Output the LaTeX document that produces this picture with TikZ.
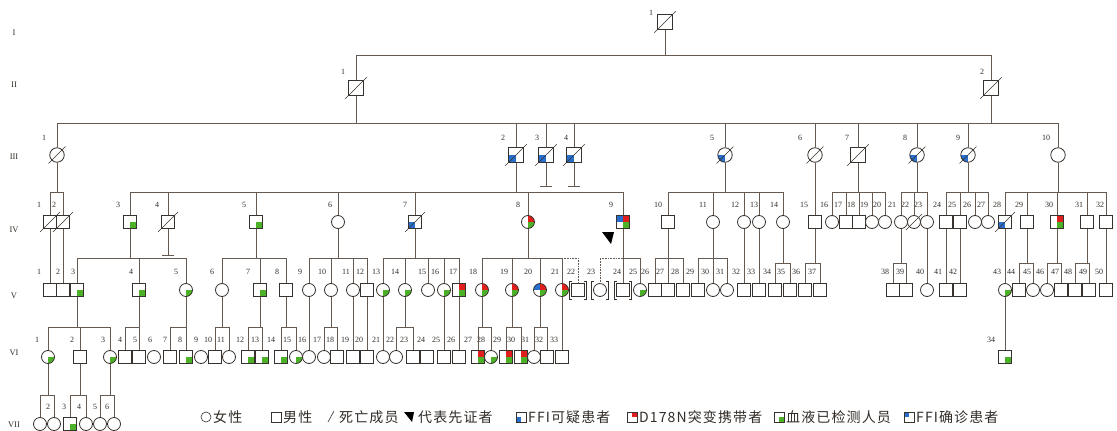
\documentclass[tikz,border=0pt]{standalone}
\usepackage{fontspec}
\setmainfont{Liberation Serif}
\newfontfamily\cjk[LetterSpace=8]{Noto Sans CJK SC}
\definecolor{gr}{RGB}{76,176,40}
\definecolor{rd}{RGB}{225,30,30}
\definecolor{bl}{RGB}{40,110,205}
\definecolor{lc}{RGB}{100,90,82}
\definecolor{sc}{RGB}{55,50,45}
\definecolor{tc}{RGB}{50,45,40}
\newcommand\qd[4]{%
  \fill[#1] (path picture bounding box.center) rectangle (path picture bounding box.north west);
  \fill[#2] (path picture bounding box.center) rectangle (path picture bounding box.north east);
  \fill[#3] (path picture bounding box.center) rectangle (path picture bounding box.south west);
  \fill[#4] (path picture bounding box.center) rectangle (path picture bounding box.south east);}
\tikzset{
  ln/.style={draw=lc, line width=0.6pt},
  sym/.style={draw=sc, line width=0.8pt, inner sep=0pt, minimum size=13pt, fill=white},
  male/.style={sym, rectangle},
  fem/.style={sym, circle},
  big/.style={minimum size=14.5pt},
  quad/.style n args={4}{path picture={\qd{#1}{#2}{#3}{#4}}},
  LLb/.style={quad={white}{white}{bl}{white}},
  LRg/.style={quad={white}{white}{white}{gr}},
  RG/.style={quad={white}{rd}{white}{gr}},
  BRG/.style={quad={bl}{rd}{white}{gr}},
  lbl/.style={font=\fontsize{8}{9}\selectfont, inner sep=0pt, text=tc},
  gen/.style={font=\fontsize{8.5}{9}\selectfont, inner sep=0pt, text=tc},
  leg/.style={font=\fontsize{14}{15}\selectfont\cjk, inner sep=0pt, anchor=west, text=tc},
  legsym/.style={minimum size=10pt, line width=0.6pt},
}
\newcommand\Ma[4][]{\node[male,#1] (#2) at (#3,#4) {};}
\newcommand\Fe[4][]{\node[fem,#1] (#2) at (#3,#4) {};}
\newcommand\lab[4]{\node[lbl] (l#1) at (#2,#3) {#4};}
\newcommand\dead[1]{\draw[sc, line width=0.6pt] ([shift={(-3pt,-3pt)}]#1.south west) -- ([shift={(3pt,3pt)}]#1.north east);}
\newcommand\kin[5]{\draw[ln] (#1.south) -- (#1.south |- #2); \draw[ln] (#3.north |- #2) -- (#4.north |- #2); \foreach \k in {#5}{\draw[ln] (\k.north) -- (\k.north |- #2);}}
\newcommand\pch[2]{\draw[ln] (#1.south) -- (#2.north);}
\newcommand\tbar[2]{\draw[ln] (#1.south) -- (#1.south |- #2) coordinate (t#1); \draw[ln] ([xshift=-6pt]t#1) -- ([xshift=6pt]t#1);}
\newcommand\brk[1]{%
 \draw[sc,line width=0.6pt] ([shift={(-6pt,9pt)}]#1.center) -- ([shift={(-8.5pt,9pt)}]#1.center) -- ([shift={(-8.5pt,-9pt)}]#1.center) -- ([shift={(-6pt,-9pt)}]#1.center);
 \draw[sc,line width=0.6pt] ([shift={(6pt,9pt)}]#1.center) -- ([shift={(8.5pt,9pt)}]#1.center) -- ([shift={(8.5pt,-9pt)}]#1.center) -- ([shift={(6pt,-9pt)}]#1.center);}
\begin{document}
\begin{tikzpicture}[x=1pt,y=-1pt]
\useasboundingbox[fill=white] (0,0) rectangle (1117,431);
\coordinate (r1) at (0,55);
\coordinate (r2) at (0,123);
\coordinate (r3) at (0,192);
\coordinate (r3t) at (0,186);
\coordinate (r4) at (0,258);
\coordinate (r4b) at (0,263);
\coordinate (r4t) at (0,255);
\coordinate (r5) at (0,327);
\coordinate (r6) at (0,395);
% generation labels
\node[gen] (gI) at (14,33) {I};
\node[gen] (gII) at (14,85) {II};
\node[gen] (gIII) at (14,157) {III};
\node[gen] (gIV) at (14,230) {IV};
\node[gen] (gV) at (14,296) {V};
\node[gen] (gVI) at (14,353) {VI};
\node[gen] (gVII) at (14,425) {VII};
% I
\Ma[big]{I1}{665}{22} \dead{I1} \lab{I1}{651}{13}{1}
% II
\Ma[big]{II1}{356}{88} \dead{II1} \lab{II1}{343}{72}{1}
\Ma[big]{II2}{991}{88} \dead{II2} \lab{II2}{982}{72}{2}
% III
\Fe[big]{III1}{57}{155} \dead{III1} \lab{III1}{44}{138}{1}
\Ma[big,LLb]{III2}{516}{155} \dead{III2} \lab{III2}{503}{138}{2}
\Ma[big,LLb]{III3}{546}{155} \dead{III3} \lab{III3}{537}{138}{3}
\Ma[big,LLb]{III4}{574}{155} \dead{III4} \lab{III4}{566}{138}{4}
\Fe[big,LLb]{III5}{725}{155} \dead{III5} \lab{III5}{712}{138}{5}
\Fe[big]{III6}{815}{155} \dead{III6} \lab{III6}{800}{138}{6}
\Ma[big]{III7}{858}{155} \dead{III7} \lab{III7}{847}{138}{7}
\Fe[big,LLb]{III8}{917}{155} \dead{III8} \lab{III8}{905}{138}{8}
\Fe[big,LLb]{III9}{968}{155} \dead{III9} \lab{III9}{958}{138}{9}
\Fe[big]{III10}{1058}{155} \lab{III10}{1046}{138}{10}
% IV
\Ma{IV1}{50}{222} \dead{IV1} \lab{IV1}{39}{205}{1}
\Ma{IV2}{63}{222} \dead{IV2} \lab{IV2}{54}{205}{2}
\Ma[LRg]{IV3}{130}{222} \lab{IV3}{118}{205}{3}
\Ma{IV4}{168}{222} \dead{IV4} \lab{IV4}{157}{205}{4}
\Ma[LRg]{IV5}{256}{222} \lab{IV5}{244}{205}{5}
\Fe{IV6}{338}{222} \lab{IV6}{330}{205}{6}
\Ma[LLb]{IV7}{415}{222} \dead{IV7} \lab{IV7}{405}{205}{7}
\Fe[RG]{IV8}{528}{222} \lab{IV8}{518}{205}{8}
\Ma[BRG]{IV9}{623}{222} \lab{IV9}{611}{205}{9}
\Ma{IV10}{668}{222} \lab{IV10}{658}{205}{10}
\Fe{IV11}{713}{222} \lab{IV11}{703}{205}{11}
\Fe{IV12}{744}{222} \lab{IV12}{735}{205}{12}
\Fe{IV13}{759}{222} \lab{IV13}{754}{205}{13}
\Fe{IV14}{783}{222} \lab{IV14}{774}{205}{14}
\Ma{IV15}{815}{222} \lab{IV15}{804}{205}{15}
\Fe{IV16}{832}{222} \lab{IV16}{824}{205}{16}
\Ma{IV17}{846}{222} \lab{IV17}{838}{205}{17}
\Ma{IV18}{859}{222} \lab{IV18}{851}{205}{18}
\Fe{IV19}{872}{222} \lab{IV19}{864}{205}{19}
\Fe{IV20}{885}{222} \lab{IV20}{877}{205}{20}
\Fe{IV21}{901}{222} \lab{IV21}{892}{205}{21}
\Fe{IV22}{914}{222} \dead{IV22} \lab{IV22}{905}{205}{22}
\Fe{IV23}{927}{222} \lab{IV23}{918}{205}{23}
\Ma{IV24}{946}{222} \lab{IV24}{937}{205}{24}
\Ma{IV25}{960}{222} \lab{IV25}{952}{205}{25}
\Fe{IV26}{975}{222} \lab{IV26}{967}{205}{26}
\Fe{IV27}{988}{222} \lab{IV27}{981}{205}{27}
\Ma[LLb]{IV28}{1005}{222} \dead{IV28} \lab{IV28}{997}{205}{28}
\Ma{IV29}{1027}{222} \lab{IV29}{1019}{205}{29}
\Ma[RG]{IV30}{1057}{222} \lab{IV30}{1049}{205}{30}
\Ma{IV31}{1087}{222} \lab{IV31}{1079}{205}{31}
\Ma{IV32}{1106}{222} \lab{IV32}{1100}{205}{32}
% V
\Ma{V1}{50}{290} \lab{V1}{39}{272}{1}
\Ma{V2}{63}{290} \lab{V2}{58}{272}{2}
\Ma[LRg]{V3}{77}{290} \lab{V3}{73}{272}{3}
\Ma[LRg]{V4}{139}{290} \lab{V4}{131}{272}{4}
\Fe[LRg]{V5}{186}{290} \lab{V5}{176}{272}{5}
\Fe{V6}{222}{290} \lab{V6}{212}{272}{6}
\Ma[LRg]{V7}{260}{290} \lab{V7}{248}{272}{7}
\Ma{V8}{286}{290} \lab{V8}{277}{272}{8}
\Fe{V9}{309}{290} \lab{V9}{300}{272}{9}
\Fe{V10}{331}{290} \lab{V10}{322}{272}{10}
\Fe{V11}{353}{290} \lab{V11}{346}{272}{11}
\Ma{V12}{367}{290} \lab{V12}{360}{272}{12}
\Fe[LRg]{V13}{383}{290} \lab{V13}{376}{272}{13}
\Fe[LRg]{V14}{405}{290} \lab{V14}{395}{272}{14}
\Fe{V15}{428}{290} \lab{V15}{422}{272}{15}
\Fe[LRg]{V16}{444}{290} \lab{V16}{435}{272}{16}
\Ma[RG]{V17}{459}{290} \lab{V17}{453}{272}{17}
\Fe[RG]{V18}{482}{290} \lab{V18}{473}{272}{18}
\Fe[RG]{V19}{512}{290} \lab{V19}{504}{272}{19}
\Fe[BRG]{V20}{540}{290} \lab{V20}{528}{272}{20}
\Fe[RG]{V21}{562}{290} \lab{V21}{555}{272}{21}
\Ma{V22}{578}{290} \lab{V22}{571}{272}{22}
\Fe{V23}{600}{290} \lab{V23}{591}{272}{23}
\Ma{V24}{623}{290} \lab{V24}{617}{272}{24}
\Fe[LRg]{V25}{640}{290} \lab{V25}{633}{272}{25}
\Ma{V26}{655}{290} \lab{V26}{645}{272}{26}
\Ma{V27}{668}{290} \lab{V27}{660}{272}{27}
\Ma{V28}{683}{290} \lab{V28}{675}{272}{28}
\Ma{V29}{698}{290} \lab{V29}{690}{272}{29}
\Fe{V30}{713}{290} \lab{V30}{705}{272}{30}
\Fe{V31}{727}{290} \lab{V31}{720}{272}{31}
\Ma{V32}{744}{290} \lab{V32}{736}{272}{32}
\Ma{V33}{759}{290} \lab{V33}{751}{272}{33}
\Ma{V34}{775}{290} \lab{V34}{767}{272}{34}
\Ma{V35}{790}{290} \lab{V35}{781}{272}{35}
\Ma{V36}{805}{290} \lab{V36}{796}{272}{36}
\Ma{V37}{820}{290} \lab{V37}{812}{272}{37}
\Ma{V38}{893}{290} \lab{V38}{885}{272}{38}
\Ma{V39}{906}{290} \lab{V39}{900}{272}{39}
\Fe{V40}{927}{290} \lab{V40}{920}{272}{40}
\Ma{V41}{946}{290} \lab{V41}{938}{272}{41}
\Ma{V42}{960}{290} \lab{V42}{953}{272}{42}
\Fe[LRg]{V43}{1005}{290} \lab{V43}{997}{272}{43}
\Ma{V44}{1019}{290} \lab{V44}{1011}{272}{44}
\Fe{V45}{1033}{290} \lab{V45}{1027}{272}{45}
\Fe{V46}{1047}{290} \lab{V46}{1040}{272}{46}
\Ma{V47}{1061}{290} \lab{V47}{1055}{272}{47}
\Ma{V48}{1075}{290} \lab{V48}{1068}{272}{48}
\Ma{V49}{1089}{290} \lab{V49}{1083}{272}{49}
\Ma{V50}{1106}{290} \lab{V50}{1099}{272}{50}
\brk{V22} \brk{V23} \brk{V24}
% VI
\Fe[LRg]{VI1}{48}{357} \lab{VI1}{37}{340}{1}
\Ma{VI2}{80}{357} \lab{VI2}{72}{340}{2}
\Fe[LRg]{VI3}{110}{357} \lab{VI3}{103}{340}{3}
\Ma{VI4}{125}{357} \lab{VI4}{120}{340}{4}
\Ma{VI5}{139}{357} \lab{VI5}{135}{340}{5}
\Fe{VI6}{154}{357} \lab{VI6}{150}{340}{6}
\Ma{VI7}{170}{357} \lab{VI7}{165}{340}{7}
\Ma[LRg]{VI8}{186}{357} \lab{VI8}{180}{340}{8}
\Fe{VI9}{201}{357} \lab{VI9}{196}{340}{9}
\Ma{VI10}{215}{357} \lab{VI10}{208}{340}{10}
\Fe{VI11}{229}{357} \lab{VI11}{221}{340}{11}
\Ma[LRg]{VI12}{248}{357} \lab{VI12}{240}{340}{12}
\Ma[LRg]{VI13}{262}{357} \lab{VI13}{255}{340}{13}
\Ma[LRg]{VI14}{281}{357} \lab{VI14}{271}{340}{14}
\Fe[LRg]{VI15}{296}{357} \lab{VI15}{287}{340}{15}
\Fe{VI16}{309}{357} \lab{VI16}{302}{340}{16}
\Fe{VI17}{324}{357} \lab{VI17}{317}{340}{17}
\Ma{VI18}{337}{357} \lab{VI18}{330}{340}{18}
\Ma{VI19}{353}{357} \lab{VI19}{345}{340}{19}
\Ma{VI20}{367}{357} \lab{VI20}{359}{340}{20}
\Fe{VI21}{383}{357} \lab{VI21}{376}{340}{21}
\Fe{VI22}{396}{357} \lab{VI22}{390}{340}{22}
\Ma{VI23}{413}{357} \lab{VI23}{404}{340}{23}
\Ma{VI24}{427}{357} \lab{VI24}{421}{340}{24}
\Ma{VI25}{444}{357} \lab{VI25}{436}{340}{25}
\Ma{VI26}{459}{357} \lab{VI26}{451}{340}{26}
\Ma[RG]{VI27}{478}{357} \lab{VI27}{468}{340}{27}
\Fe[LRg]{VI28}{491}{357} \lab{VI28}{481}{340}{28}
\Ma[RG]{VI29}{506}{357} \lab{VI29}{497}{340}{29}
\Ma[RG]{VI30}{521}{357} \lab{VI30}{511}{340}{30}
\Fe{VI31}{534}{357} \lab{VI31}{525}{340}{31}
\Ma{VI32}{547}{357} \lab{VI32}{539}{340}{32}
\Ma{VI33}{562}{357} \lab{VI33}{554}{340}{33}
\Ma[LRg]{VI34}{1005}{357} \lab{VI34}{991}{340}{34}
% VII
\Fe{VII1}{40}{424}
\Fe{VII2}{54}{424} \lab{VII2}{48}{407}{2}
\Ma[LRg]{VII3}{70}{424} \lab{VII3}{64}{407}{3}
\Fe{VII4}{86}{424} \lab{VII4}{79}{407}{4}
\Fe{VII5}{100}{424} \lab{VII5}{95}{407}{5}
\Fe{VII6}{114}{424} \lab{VII6}{107}{407}{6}
% connectors I-II-III
\kin{I1}{r1}{II1}{II2}{II1,II2}
\draw[ln] (II1.south) -- (II1.south |- r2);
\draw[ln] (II2.south) -- (II2.south |- r2);
\draw[ln] (III1.north |- r2) -- (III10.north |- r2);
\foreach \k in {III1,III2,III3,III4,III5,III6,III7,III8,III9,III10}{\draw[ln] (\k.north) -- (\k.north |- r2);}
\tbar{III3}{r3t} \tbar{III4}{r3t}
% III-IV
\kin{III1}{r3}{IV1}{IV2}{IV1,IV2}
\kin{III2}{r3}{IV3}{IV9}{IV3,IV4,IV5,IV6,IV7,IV8,IV9}
\kin{III5}{r3}{IV10}{IV14}{IV10,IV11,IV12,IV13,IV14}
\pch{III6}{IV15}
\kin{III7}{r3}{IV16}{IV20}{IV16,IV17,IV18,IV19,IV20}
\kin{III8}{r3}{IV21}{IV23}{IV21,IV22,IV23}
\kin{III9}{r3}{IV24}{IV27}{IV24,IV25,IV26,IV27}
\kin{III10}{r3}{IV28}{IV32}{IV28,IV29,IV30,IV31,IV32}
\tbar{IV4}{r4t}
% IV-V
\pch{IV1}{V1} \pch{IV2}{V2}
\kin{IV3}{r4}{V3}{V5}{V3,V4,V5}
\kin{IV5}{r4}{V6}{V8}{V6,V7,V8}
\kin{IV6}{r4}{V9}{V12}{V9,V10,V11,V12}
\kin{IV7}{r4}{V13}{V17}{V13,V14,V15,V16,V17}
\kin{IV8}{r4}{V18}{V21}{V18,V19,V20,V21}
\draw[ln,densely dotted] (V21.north |- r4) -- (V22.north |- r4) -- (V22.north);
\kin{IV9}{r4}{V24}{V25}{V24,V25}
\draw[ln,densely dotted] (V24.north |- r4) -- (V23.north |- r4) -- (V23.north);
\kin{IV10}{r4}{V26}{V28}{V26,V27,V28}
\kin{IV11}{r4}{V29}{V31}{V29,V30,V31}
\pch{IV12}{V32} \pch{IV13}{V33}
\kin{IV14}{r4b}{V34}{V35}{V34,V35}
\kin{IV15}{r4b}{V36}{V37}{V36,V37}
\kin{IV21}{r4b}{V38}{V39}{V38,V39}
\pch{IV23}{V40} \pch{IV24}{V41} \pch{IV25}{V42} \pch{IV28}{V43}
\kin{IV29}{r4b}{V44}{V45}{V44,V45}
\kin{IV30}{r4b}{V46}{V47}{V46,V47}
\kin{IV31}{r4b}{V48}{V49}{V48,V49}
\pch{IV32}{V50}
% V-VI
\kin{V3}{r5}{VI1}{VI3}{VI1,VI2,VI3}
\kin{V4}{r5}{VI4}{VI5}{VI4,VI5}
\kin{V5}{r5}{VI7}{VI8}{VI7,VI8}
\kin{V6}{r5}{VI10}{VI11}{VI10,VI11}
\kin{V7}{r5}{VI12}{VI13}{VI12,VI13}
\kin{V8}{r5}{VI14}{VI15}{VI14,VI15}
\pch{V9}{VI16}
\kin{V10}{r5}{VI17}{VI18}{VI17,VI18}
\pch{V11}{VI19} \pch{V12}{VI20} \pch{V13}{VI21}
\kin{V14}{r5}{VI22}{VI23}{VI22,VI23}
\pch{V16}{VI25} \pch{V17}{VI26}
\kin{V18}{r5}{VI27}{VI28}{VI27,VI28}
\kin{V19}{r5}{VI29}{VI30}{VI29,VI30}
\kin{V20}{r5}{VI31}{VI32}{VI31,VI32}
\pch{V21}{VI33}
\pch{V43}{VI34}
% VI-VII
\kin{VI1}{r6}{VII1}{VII2}{VII1,VII2}
\kin{VI2}{r6}{VII3}{VII4}{VII3,VII4}
\kin{VI3}{r6}{VII5}{VII6}{VII5,VII6}
% proband
\fill[black] (602,232) -- (614,232) -- (611,244) -- cycle;
% legend
\node[fem, legsym] (Lf) at (206,417) {};
\node[leg] (Lft) at (213,417) {女性};
\node[male, legsym] (Lm) at (276,417) {};
\node[leg] (Lmt) at (283,417) {男性};
\draw[sc, line width=0.6pt] (328,422) -- (334,411);
\node[leg] (Ldt) at (339,417) {死亡成员};
\fill[black] (404,412) -- (414,412) -- (412,422) -- cycle;
\node[leg] (Lpt) at (418,417) {代表先证者};
\node[male, legsym, LLb] (L1) at (521,417) {};
\node[leg] (L1t) at (528,417) {FFI可疑患者};
\node[male, legsym, quad={white}{rd}{white}{white}] (L2) at (632,417) {};
\node[leg] (L2t) at (639,417) {D178N突变携带者};
\node[male, legsym, LRg] (L3) at (779,417) {};
\node[leg] (L3t) at (786,417) {血液已检测人员};
\node[male, legsym, quad={bl}{white}{white}{white}] (L4) at (909,417) {};
\node[leg] (L4t) at (916,417) {FFI确诊患者};
\end{tikzpicture}
\end{document}
